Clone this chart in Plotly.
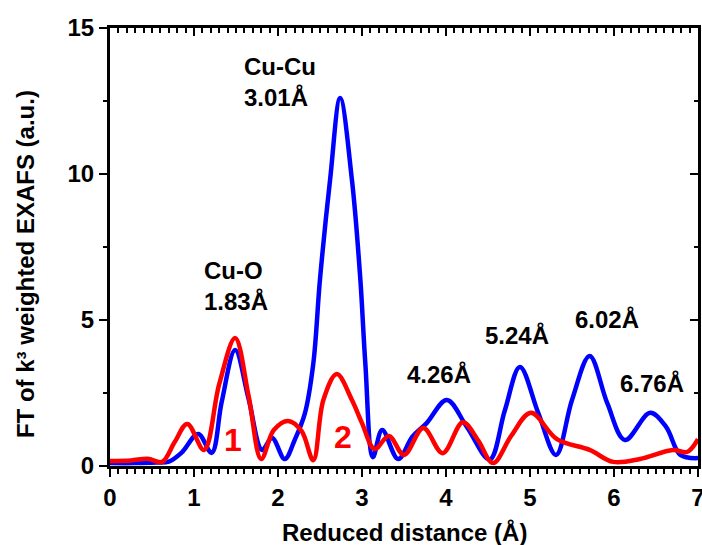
import plotly.graph_objects as go

# Fourier-transformed k^3-weighted EXAFS magnitudes
blue_r = [0.00, 0.30, 0.55, 0.70, 0.85, 1.05, 1.21, 1.33, 1.49, 1.65, 1.81, 1.93,
          2.08, 2.20, 2.32, 2.42, 2.50, 2.62, 2.74, 2.88, 2.98, 3.04, 3.13, 3.24,
          3.43, 3.60, 3.77, 4.01, 4.25, 4.52, 4.70, 4.88, 5.10, 5.31, 5.50, 5.71,
          5.92, 6.13, 6.43, 6.62, 6.79, 7.00]
blue_ft = [0.10, 0.10, 0.12, 0.15, 0.45, 1.10, 0.45, 2.20, 3.97, 2.30, 0.55, 0.96,
           0.24, 0.90, 1.80, 3.50, 6.40, 9.80, 12.60, 9.80, 6.40, 3.50, 0.30, 1.23,
           0.24, 1.00, 1.47, 2.26, 1.33, 0.22, 1.90, 3.39, 1.80, 0.38, 2.26, 3.77,
           2.15, 0.89, 1.82, 1.34, 0.38, 0.27]

red_r = [0.00, 0.25, 0.45, 0.62, 0.77, 0.92, 1.12, 1.30, 1.49, 1.65, 1.80, 1.95,
         2.12, 2.28, 2.42, 2.54, 2.70, 2.88, 3.00, 3.15, 3.32, 3.50, 3.73, 3.96,
         4.20, 4.38, 4.56, 4.78, 5.01, 5.32, 5.71, 5.99, 6.31, 6.70, 6.87, 7.00]
red_ft = [0.17, 0.19, 0.25, 0.14, 0.82, 1.44, 0.55, 2.80, 4.38, 2.40, 0.24, 1.23,
          1.54, 1.20, 0.20, 2.26, 3.15, 2.26, 1.47, 0.58, 1.03, 0.38, 1.30, 0.44,
          1.50, 0.89, 0.10, 1.05, 1.82, 0.92, 0.55, 0.14, 0.24, 0.55, 0.48, 0.92]

x_ticks = [0, 1, 2, 3, 4, 5, 6, 7]
y_ticks = [0, 5, 10, 15]

# Peak labels: (text, r, FT)
peak_labels = [
    ("Cu-Cu<br>3.01Å", 1.57, 13.15),
    ("Cu-O<br>1.83Å", 1.10, 6.16),
    ("4.26Å", 3.51, 3.13),
    ("5.24Å", 4.44, 4.47),
    ("6.02Å", 5.51, 5.02),
    ("6.76Å", 6.05, 2.83),
]
shell_labels = [("1", 1.464, 0.89), ("2", 2.774, 0.99)]

FONT = "Liberation Sans, Arial, sans-serif"

fig = go.Figure()
fig.add_trace(go.Scatter(x=blue_r, y=blue_ft, mode="lines",
                         line=dict(color="#0000FF", width=4.5, shape="spline", smoothing=1.0),
                         showlegend=False))
fig.add_trace(go.Scatter(x=red_r, y=red_ft, mode="lines",
                         line=dict(color="#FF0000", width=4.5, shape="spline", smoothing=1.0),
                         showlegend=False))

for text, xr, yv in peak_labels:
    fig.add_annotation(x=xr, y=yv, xref="x", yref="y", text=f"<b>{text}</b>",
                       showarrow=False, xanchor="left", yanchor="middle", align="left",
                       font=dict(family=FONT, size=24, color="black"))
for text, xr, yv in shell_labels:
    fig.add_annotation(x=xr, y=yv, xref="x", yref="y", text=f"<b>{text}</b>",
                       showarrow=False, xanchor="center", yanchor="middle",
                       font=dict(family=FONT, size=32, color="#FF0000"))

fig.add_annotation(x=0.5, y=-0.1507, xref="paper", yref="paper",
                   text="<b>Reduced distance (Å)</b>", showarrow=False,
                   xanchor="center", yanchor="middle",
                   font=dict(family=FONT, size=24, color="black"))
fig.add_annotation(x=-0.1446, y=0.461, xref="paper", yref="paper",
                   text="<b>FT of k³ weighted EXAFS (a.u.)</b>", showarrow=False,
                   textangle=-90, xanchor="center", yanchor="middle",
                   font=dict(family=FONT, size=24, color="black"))

axis_common = dict(showgrid=False, zeroline=False, showline=True, linecolor="black",
                   linewidth=3, tickcolor="black", tickwidth=2, automargin=False)

fig.update_layout(
    width=702, height=545,
    margin=dict(l=110, r=4, t=28, b=79),
    plot_bgcolor="white", paper_bgcolor="white",
    xaxis=dict(range=[0, 7], tickvals=x_ticks, ticks="outside", ticklen=8,
               ticklabeloverflow="allow",
               tickfont=dict(family=FONT, size=24, color="black", weight="bold"),
               minor=dict(dtick=0.1, ticks="outside", ticklen=5, tickwidth=2,
                          tickcolor="black"),
               **axis_common),
    yaxis=dict(range=[0, 15], tickvals=y_ticks, ticks="outside", ticklen=8,
               tickfont=dict(family=FONT, size=24, color="black", weight="bold"),
               minor=dict(dtick=2.5, ticks="outside", ticklen=4, tickwidth=2,
                          tickcolor="black"),
               **axis_common),
    xaxis2=dict(range=[0, 7], overlaying="x", side="top", tickvals=x_ticks,
                ticks="inside", ticklen=8, showticklabels=False,
                minor=dict(dtick=0.1, ticks="inside", ticklen=5, tickwidth=2,
                           tickcolor="black"),
                **axis_common),
    yaxis2=dict(range=[0, 15], overlaying="y", side="right", tickvals=y_ticks,
                ticks="inside", ticklen=8, showticklabels=False,
                minor=dict(dtick=2.5, ticks="inside", ticklen=4, tickwidth=2,
                           tickcolor="black"),
                **axis_common),
)
# invisible trace to activate the mirrored frame axes
fig.add_trace(go.Scatter(x=[0], y=[0], xaxis="x2", yaxis="y2", mode="markers",
                         marker=dict(opacity=0), hoverinfo="skip", showlegend=False))

fig.write_html("out.html")
